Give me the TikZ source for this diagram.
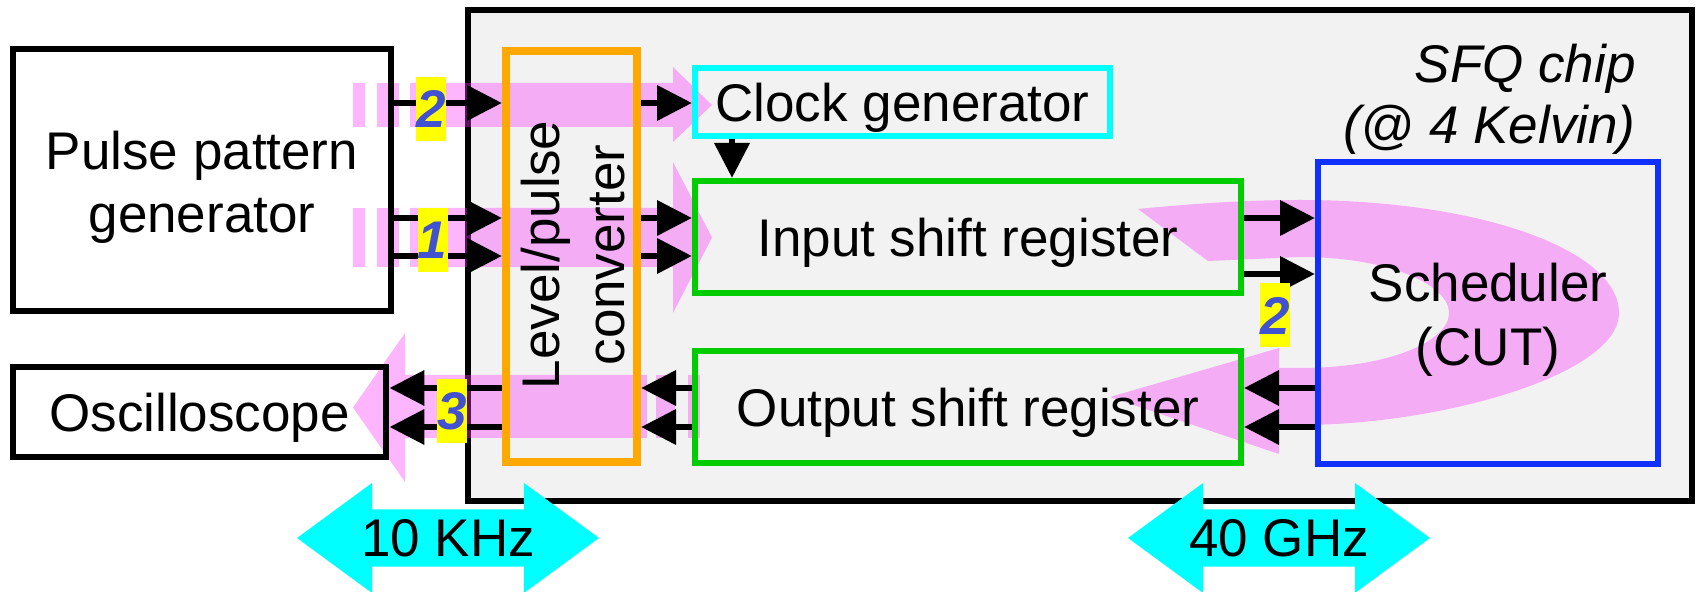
\documentclass[tikz,border=0pt]{standalone}
\usepackage{fontspec}
\setmainfont{Liberation Sans}
\usetikzlibrary{arrows.meta,shapes.arrows}
\definecolor{chipgray}{RGB}{242,242,242}
\definecolor{pinkc}{RGB}{250,50,250}
\definecolor{orangec}{RGB}{255,168,0}
\definecolor{cyanc}{RGB}{0,255,255}
\definecolor{greenc}{RGB}{0,204,0}
\definecolor{bluec}{RGB}{16,48,255}
\definecolor{labblue}{RGB}{66,80,210}
\definecolor{yellowc}{RGB}{255,255,0}
\begin{document}
\begin{tikzpicture}[x=0.5pt,y=-0.5pt,
  every node/.style={font=\fontsize{26.5}{31.5}\selectfont},
  blackbox/.style={draw=black,line width=3.4pt,inner sep=0pt},
  colbox/.style={draw=#1,line width=3pt,inner sep=0pt},
  pinkfill/.style={fill=pinkc,fill opacity=0.36},
  sig/.style={line width=3.4pt,-{Triangle[length=17.5pt,width=17pt]}},
  ylab/.style={fill=yellowc,minimum width=15pt,minimum height=32pt,inner sep=0pt,text=labblue,font=\fontsize{26.5}{30}\selectfont\bfseries\itshape},
  freq/.style={double arrow,fill=cyanc,minimum height=151pt,minimum width=55pt,double arrow head extend=8.75pt,double arrow tip angle=72.5,inner sep=0pt}]
\useasboundingbox (0,0) rectangle (1696,592);
% level coordinates
\coordinate (ya) at (0,103);
\coordinate (yb) at (0,218);
\coordinate (yc) at (0,256);
\coordinate (yd) at (0,274);
\coordinate (ye) at (0,388);
\coordinate (yf) at (0,427);
\coordinate (xk) at (732,0);
% chip
\node[draw=black,line width=3.4pt,fill=chipgray,minimum width=612pt,minimum height=245.5pt,inner sep=0pt] (chip) at (1080,255.5) {};
\node[align=right,anchor=east,inner sep=0pt,font=\fontsize{26.5}{30.5}\selectfont\itshape] (sfq) at (1636,99) {SFQ chip\\(@ 4 Kelvin)};
% pink flows
\fill[pinkfill] (353,83) rectangle (365,127);
\fill[pinkfill] (377,83) rectangle (399,127);
\fill[pinkfill] (410,83) -- (673,83) -- (673,67) -- (712,105) -- (673,142) -- (673,127) -- (410,127) -- cycle;
\fill[pinkfill] (353,208) rectangle (365,267);
\fill[pinkfill] (377,208) rectangle (399,267);
\fill[pinkfill] (410,208) -- (673,208) -- (673,162) -- (712,237.5) -- (673,313) -- (673,267) -- (410,267) -- cycle;
\fill[pinkfill] (647,375) -- (405,375) -- (405,333) -- (353,407.5) -- (405,482) -- (405,438) -- (647,438) -- cycle;
\fill[pinkfill] (656,375) rectangle (675,438);
\fill[pinkfill] (688,375) rectangle (700,438);
\fill[pinkfill] (1138,209) .. controls (1200,203) and (1250,200) .. (1300,200)
  .. controls (1480,200) and (1619,250) .. (1619,313)
  .. controls (1619,375) and (1440,425) .. (1300,425)
  -- (1279,425) -- (1279,454) -- (1110,397) -- (1279,348) -- (1279,368) -- (1300,368)
  .. controls (1390,368) and (1449,341) .. (1449,313)
  .. controls (1449,285) and (1390,257) .. (1300,257)
  -- (1208,261) -- cycle;
% outside boxes
\node[blackbox,minimum width=189pt,minimum height=131pt] (ppg) at (202,180) {};
\node[align=center,inner sep=0pt] (ppgtext) at (202,187.5) {Pulse pattern\\generator};
\node[blackbox,minimum width=186.5pt,minimum height=45pt,text depth=0pt] (osc) at (199.5,412) {Oscilloscope};
% chip blocks
\node[draw=orangec,line width=4pt,minimum width=65.5pt,minimum height=205.5pt,inner sep=0pt] (lpc) at (571.5,256.5) {};
\node[rotate=90,align=center,inner sep=0pt,font=\fontsize{26.5}{32.5}\selectfont] (lpctext) at (573,255) {Level/pulse\\converter};
\node[colbox=cyanc,minimum width=207.5pt,minimum height=34pt,text depth=0pt] (clk) at (902.5,102) {Clock generator};
\node[colbox=greenc,minimum width=273pt,minimum height=56pt,text depth=0pt] (isr) at (968,237) {Input shift register};
\node[colbox=greenc,minimum width=273pt,minimum height=56pt,text depth=0pt] (osr) at (968,407) {Output shift register};
\node[colbox=bluec,minimum width=170pt,minimum height=151pt] (sch) at (1488,313) {};
\node[align=center,inner sep=0pt,font=\fontsize{26.5}{32}\selectfont] (schtext) at (1488,320) {Scheduler\\(CUT)};
% signal arrows
\draw[sig] (ppg.east |- ya) -- (lpc.west |- ya);
\draw[sig] (lpc.east |- ya) -- (clk.west |- ya);
\draw[sig] (ppg.east |- yb) -- (lpc.west |- yb);
\draw[sig] (ppg.east |- yc) -- (lpc.west |- yc);
\draw[sig] (lpc.east |- yb) -- (isr.west |- yb);
\draw[sig] (lpc.east |- yc) -- (isr.west |- yc);
\draw[sig] (clk.south -| xk) -- (isr.north -| xk);
\draw[sig] (isr.east |- yb) -- (sch.west |- yb);
\draw[sig] (isr.east |- yd) -- (sch.west |- yd);
\draw[sig] (sch.west |- ye) -- (osr.east |- ye);
\draw[sig] (sch.west |- yf) -- (osr.east |- yf);
\draw[sig] (osr.west |- ye) -- (lpc.east |- ye);
\draw[sig] (osr.west |- yf) -- (lpc.east |- yf);
\draw[sig] (lpc.west |- ye) -- (osc.east |- ye);
\draw[sig] (lpc.west |- yf) -- (osc.east |- yf);
% labels
\node[ylab] (l2a) at (431,109) {2};
\node[ylab] (l1) at (432.5,240) {1};
\node[ylab] (l3) at (452,411) {3};
\node[ylab] (l2b) at (1275,315.5) {2};
% frequencies
\node[freq] (khz) at (448,538) {10 KHz};
\node[freq] (ghz) at (1279,538) {40 GHz};
\end{tikzpicture}
\end{document}
